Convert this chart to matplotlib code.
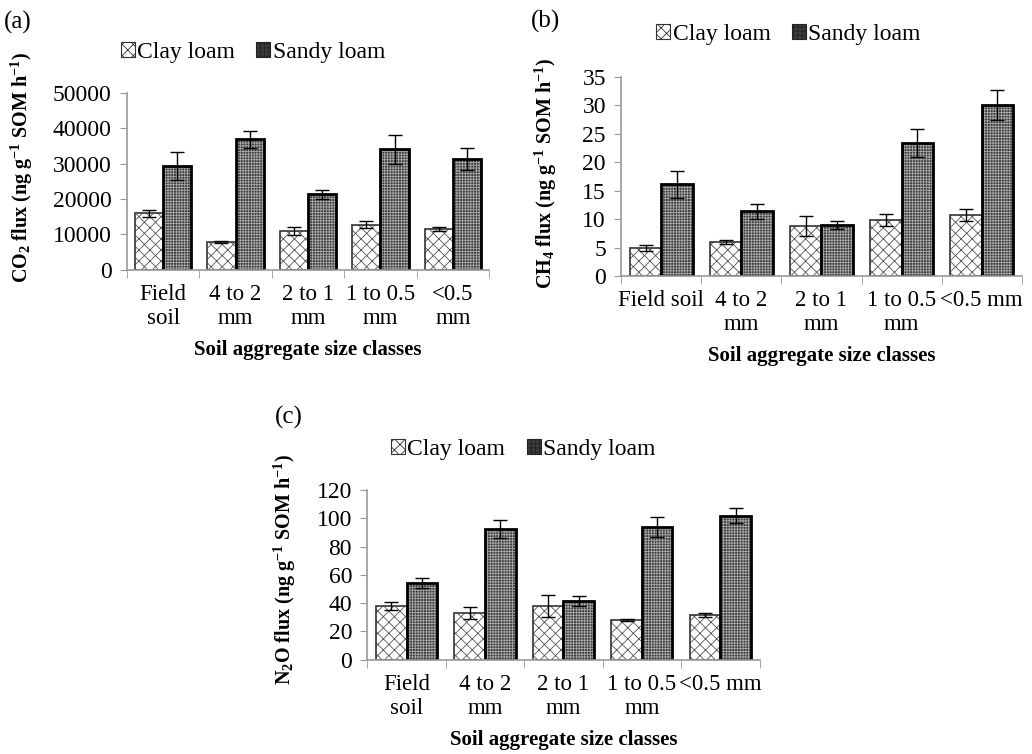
import numpy as np
import matplotlib
matplotlib.use("Agg")
import matplotlib.pyplot as plt
from matplotlib.patches import Patch

plt.rcParams['font.family'] = ['Liberation Serif', 'DejaVu Serif']
plt.rcParams['mathtext.fontset'] = 'custom'
plt.rcParams['mathtext.rm'] = 'Liberation Serif'
plt.rcParams['mathtext.bf'] = 'Liberation Serif:bold'
plt.rcParams['mathtext.default'] = 'bf'
plt.rcParams['hatch.linewidth'] = 0.6

# data
series = ['Clay loam', 'Sandy loam']

labels_a = ['Field\nsoil', '4 to 2\nmm', '2 to 1\nmm', '1 to 0.5\nmm', '<0.5\nmm']
co2_clay = [16000, 8000, 11000, 12700, 11500]
co2_clay_err = [1000, 300, 1200, 1000, 500]
co2_sandy = [29300, 36900, 21300, 34000, 31300]
co2_sandy_err = [4000, 2400, 1300, 4200, 3000]

labels_b = ['Field soil', '4 to 2\nmm', '2 to 1\nmm', '1 to 0.5\nmm', '<0.5 mm']
ch4_clay = [4.9, 6.0, 8.8, 9.8, 10.7]
ch4_clay_err = [0.5, 0.4, 1.8, 1.1, 1.1]
ch4_sandy = [16.1, 11.4, 8.9, 23.4, 30.1]
ch4_sandy_err = [2.4, 1.3, 0.7, 2.4, 2.6]

labels_c = ['Field\nsoil', '4 to 2\nmm', '2 to 1\nmm', '1 to 0.5\nmm', '<0.5 mm']
n2o_clay = [38, 33, 38, 28, 31.5]
n2o_clay_err = [3, 4, 8, 0.5, 1.5]
n2o_sandy = [54.5, 92.5, 41.5, 94, 102]
n2o_sandy_err = [3.5, 6.5, 3.5, 7, 5]

fig = plt.figure(figsize=(10.32, 7.54), dpi=100)

W = 0.39
SANDY_FACE = '#3c3c3c'
SANDY_HATCH = '#a8a8a8'
CLAY_HATCH = '#555555'
FS = 16.5


def draw_panel(rect, labels, clay, clay_err, sandy, sandy_err, ymax, ystep,
               ylabel, ylabel_xy, letter, letter_xy, legend_xy):
    ax = fig.add_axes(rect)
    x = np.arange(len(labels))
    # clay loam: white with cross hatch
    ax.bar(x - W / 2, clay, W, color='white', edgecolor=CLAY_HATCH, hatch='xxx', linewidth=0)
    ax.bar(x - W / 2, clay, W, fill=False, edgecolor='#333333', linewidth=1.2)
    # sandy loam: dark with fine dotted pattern
    ax.bar(x + W / 2, sandy, W, color=SANDY_FACE, edgecolor=SANDY_HATCH, hatch='++++++', linewidth=0)
    ax.bar(x + W / 2, sandy, W, fill=False, edgecolor='black', linewidth=2)
    ax.errorbar(x - W / 2, clay, yerr=clay_err, fmt='none', ecolor='black', elinewidth=1, capsize=5, capthick=1)
    ax.errorbar(x + W / 2, sandy, yerr=sandy_err, fmt='none', ecolor='black', elinewidth=1, capsize=5, capthick=1)

    ax.set_xlim(-0.5, len(labels) - 0.5)
    ax.set_ylim(0, ymax)
    ax.set_yticks(np.arange(0, ymax + ystep / 2, ystep))
    ax.set_xticks(x)
    ax.set_xticklabels(labels, fontsize=FS, linespacing=1.2)
    ax.set_xticks(np.arange(-0.5, len(labels), 1), minor=True)
    ax.tick_params(axis='x', which='major', length=0, pad=10)
    ax.tick_params(axis='x', which='minor', length=6, color='#999999', direction='out')
    ax.tick_params(axis='y', labelsize=FS + 0.5, length=5, color='#999999', pad=6)
    for s in ['top', 'right']:
        ax.spines[s].set_visible(False)
    for s in ['left', 'bottom']:
        ax.spines[s].set_color('#999999')
        ax.spines[s].set_linewidth(1.2)
    ax.set_xlabel('Soil aggregate size classes', fontsize=15, fontweight='bold', labelpad=8)

    # y label placed at a figure-pixel position (right edge of rotated text, centre height)
    fig.text(ylabel_xy[0] / 1032, 1 - ylabel_xy[1] / 754, ylabel, fontsize=14.5, fontweight='bold',
             rotation=90, ha='right', va='center')

    handles = [Patch(facecolor='white', edgecolor='#333333', hatch='xxx', linewidth=0.8),
               Patch(facecolor=SANDY_FACE, edgecolor='#222222', hatch='++++', linewidth=0.8)]
    fig.legend(handles, series, loc='center', bbox_to_anchor=legend_xy, ncol=2, frameon=False,
               fontsize=17, handlelength=0.6, handleheight=0.6, handletextpad=0.1,
               columnspacing=0.9)
    fig.text(letter_xy[0], letter_xy[1], letter, fontsize=18, ha='left', va='center')
    return ax


draw_panel([0.123, 0.642, 0.351, 0.235], labels_a, co2_clay, co2_clay_err, co2_sandy, co2_sandy_err,
           50000, 10000, 'CO$_2$ flux (ng g$^{-1}$ SOM h$^{-1}$)', (35, 168),
           '(a)', (0.004, 0.970), (0.245, 0.931))
draw_panel([0.602, 0.634, 0.388, 0.264], labels_b, ch4_clay, ch4_clay_err, ch4_sandy, ch4_sandy_err,
           35, 5, 'CH$_4$ flux (ng g$^{-1}$ SOM h$^{-1}$)', (559, 174),
           '(b)', (0.514, 0.972), (0.764, 0.954))
draw_panel([0.356, 0.125, 0.380, 0.225], labels_c, n2o_clay, n2o_clay_err, n2o_sandy, n2o_sandy_err,
           120, 20, 'N$_2$O flux (ng g$^{-1}$ SOM h$^{-1}$)', (298, 570),
           '(c)', (0.266, 0.446), (0.507, 0.404))

fig.savefig('out.png', dpi=100)
